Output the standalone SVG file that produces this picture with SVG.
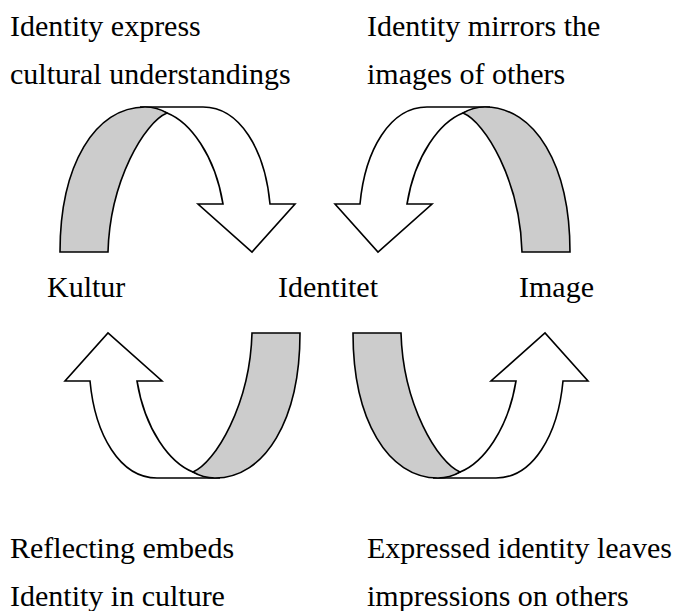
<svg xmlns="http://www.w3.org/2000/svg" xmlns:xlink="http://www.w3.org/1999/xlink" width="677" height="611" viewBox="0 0 677 611">
<style>
  .lbl { font-family: 'Liberation Serif', 'DejaVu Serif', serif; font-size: 30px; fill: #000; }
  .front { fill: #ffffff; stroke: #000; stroke-width: 1.6; stroke-linejoin: miter; }
  .back { fill: #cccccc; stroke: #000; stroke-width: 1.6; stroke-linejoin: miter; }
</style>
<defs>
  <g id="curvedArrow">
    <path class="front" d="M140,107 L203,107 C240,107 265,150 270,204 L295,204 L252,252 L198,204 L223,204 C215,155 190,122 167,113 C160,110 150,107 140,107 Z"/>
    <path class="back" d="M60,252 C60,165 95,107 145,107 C155,107 162,110 167,113 C145,122 110,180 108,252 Z"/>
  </g>
</defs>
<rect width="677" height="611" fill="#ffffff"/>
<g id="connectors">
  <use id="arrow-top-left" xlink:href="#curvedArrow" href="#curvedArrow"/>
  <use id="arrow-top-right" xlink:href="#curvedArrow" href="#curvedArrow" transform="translate(630,0) scale(-1,1)"/>
  <use id="arrow-bottom-left" xlink:href="#curvedArrow" href="#curvedArrow" transform="matrix(-1,0,0,-1,360,585)"/>
  <use id="arrow-bottom-right" xlink:href="#curvedArrow" href="#curvedArrow" transform="matrix(1,0,0,-1,293,585)"/>
</g>
<g font-family="Liberation Serif, DejaVu Serif, serif" font-size="30">
<g id="node-kultur"><text class="lbl" x="47" y="297">Kultur</text></g>
<g id="node-identitet"><text class="lbl" x="278" y="297">Identitet</text></g>
<g id="node-image"><text class="lbl" x="519" y="297">Image</text></g>
<g id="label-top-left">
  <text class="lbl" x="10" y="36">Identity express</text>
  <text class="lbl" x="10" y="84">cultural understandings</text>
</g>
<g id="label-top-right">
  <text class="lbl" x="367" y="36">Identity mirrors the</text>
  <text class="lbl" x="367" y="84">images of others</text>
</g>
<g id="label-bottom-left">
  <text class="lbl" x="10" y="558">Reflecting embeds</text>
  <text class="lbl" x="10" y="606">Identity in culture</text>
</g>
<g id="label-bottom-right">
  <text class="lbl" x="367" y="558">Expressed identity leaves</text>
  <text class="lbl" x="367" y="606">impressions on others</text>
</g>
</g>
</svg>
